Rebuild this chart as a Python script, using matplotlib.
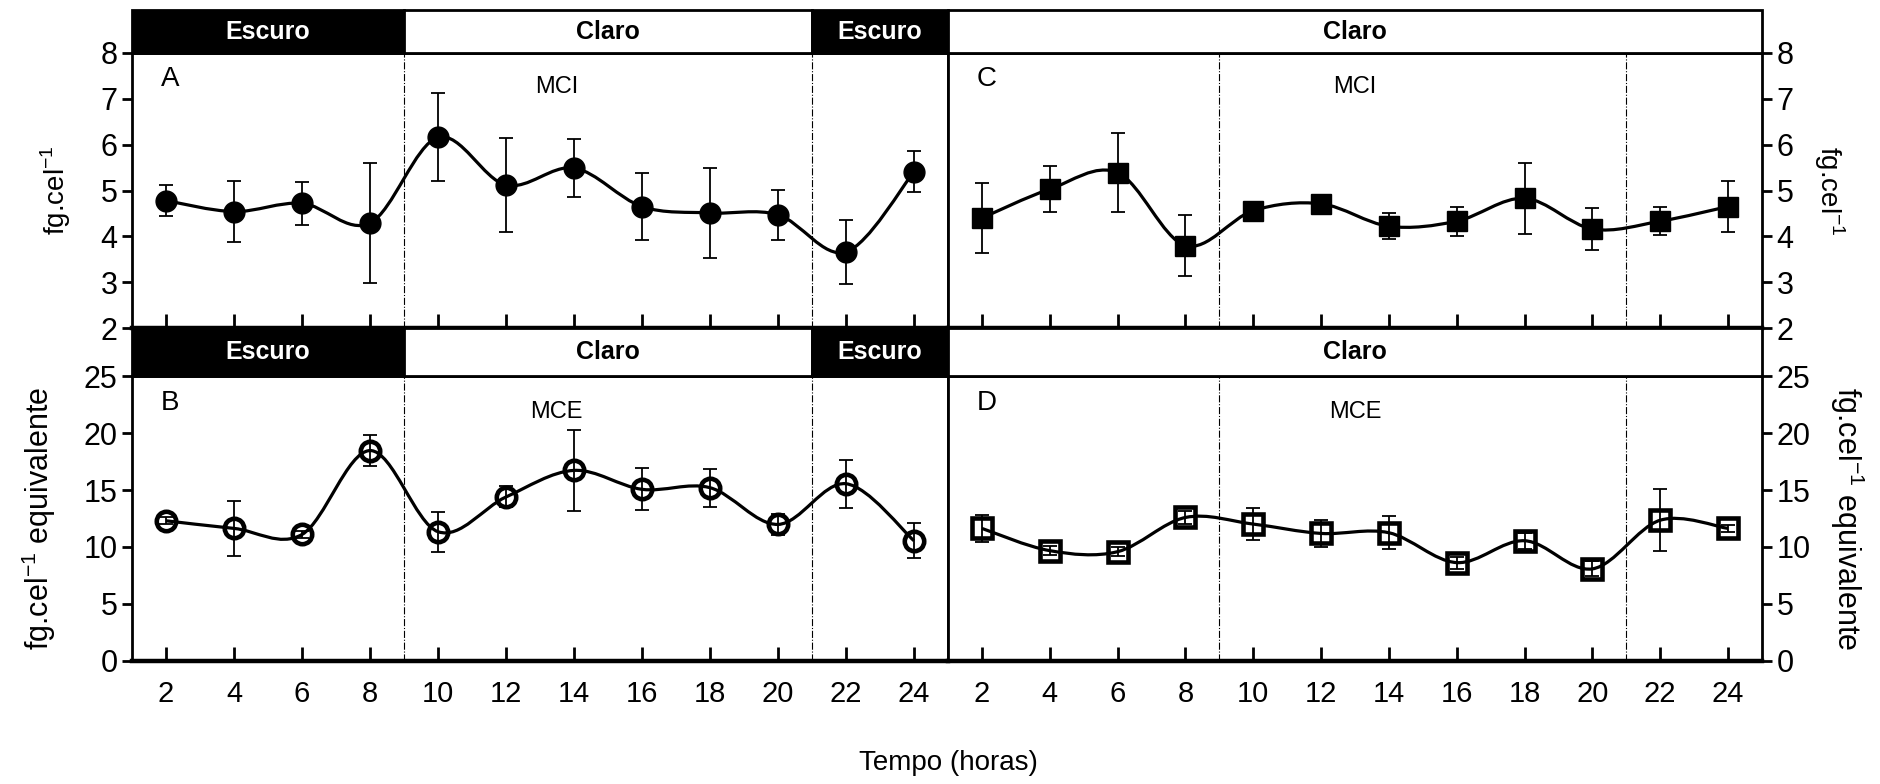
import numpy as np
import matplotlib.pyplot as plt
from matplotlib.path import Path
from matplotlib.patches import PathPatch, Rectangle

plt.rcParams['font.family'] = ['Liberation Sans', 'DejaVu Sans']
plt.rcParams['mathtext.fontset'] = 'custom'
plt.rcParams['mathtext.rm'] = 'Liberation Sans'

horas = [2, 4, 6, 8, 10, 12, 14, 16, 18, 20, 22, 24]

# A - MCI (escuro/claro)
a_media = [4.78, 4.54, 4.72, 4.29, 6.16, 5.12, 5.49, 4.65, 4.51, 4.47, 3.66, 5.41]
a_erro = [0.34, 0.66, 0.47, 1.30, 0.96, 1.02, 0.64, 0.74, 0.98, 0.54, 0.69, 0.45]
# C - MCI (claro continuo)
c_media = [4.40, 5.03, 5.39, 3.80, 4.56, 4.71, 4.22, 4.33, 4.83, 4.16, 4.33, 4.65]
c_erro = [0.76, 0.50, 0.86, 0.66, 0.04, 0.08, 0.28, 0.32, 0.78, 0.46, 0.30, 0.56]
# B - MCE (escuro/claro)
b_media = [12.30, 11.63, 11.10, 18.46, 11.34, 14.39, 16.72, 15.06, 15.20, 11.98, 15.55, 10.55]
b_erro = [0.30, 2.38, 0.30, 1.38, 1.76, 0.92, 3.53, 1.84, 1.66, 0.95, 2.11, 1.55]
# D - MCE (claro continuo)
d_media = [11.63, 9.68, 9.59, 12.59, 12.01, 11.19, 11.25, 8.63, 10.55, 8.08, 12.35, 11.63]
d_erro = [1.20, 0.42, 0.40, 0.60, 1.38, 1.20, 1.45, 0.52, 0.72, 0.65, 2.72, 0.30]

periodos_esq = [("Escuro", 1, 9), ("Claro", 9, 21), ("Escuro", 21, 25)]
periodos_dir = [("Claro", 1, 25)]
divisoes = [9, 21]


def curva_suave(ax, x, y):
    # linha suavizada tipo Excel (bezier a partir dos pontos)
    n = len(x)
    verts = [(x[0], y[0])]
    codes = [Path.MOVETO]
    for i in range(n - 1):
        xa, ya = x[max(i - 1, 0)], y[max(i - 1, 0)]
        xb, yb = x[min(i + 2, n - 1)], y[min(i + 2, n - 1)]
        c1 = (x[i] + (x[i + 1] - xa) / 6, y[i] + (y[i + 1] - ya) / 6)
        c2 = (x[i + 1] - (xb - x[i]) / 6, y[i + 1] - (yb - y[i]) / 6)
        verts += [c1, c2, (x[i + 1], y[i + 1])]
        codes += [Path.CURVE4] * 3
    ax.add_patch(PathPatch(Path(verts, codes), fill=False, lw=2.3,
                           edgecolor='black', zorder=2))


def faixa(fig, rect, periodos):
    axb = fig.add_axes(rect)
    axb.set_xlim(1, 25)
    axb.set_ylim(0, 1)
    axb.axis('off')
    for nome, x0, x1 in periodos:
        escuro = nome == "Escuro"
        axb.add_patch(Rectangle((x0, 0), x1 - x0, 1, facecolor='black' if escuro else 'white',
                                edgecolor='black', lw=2, clip_on=False))
        axb.text((x0 + x1) / 2, 0.5, nome, ha='center', va='center', fontsize=18,
                 fontweight='bold', color='white' if escuro else 'black')
    return axb


def painel(ax, media, erro, ylim, yticks, letra, nome, marcador, cheio, lado):
    ax.set_xlim(1, 25)
    ax.set_ylim(*ylim)
    ax.set_yticks(yticks)
    ax.set_xticks(horas)
    curva_suave(ax, horas, media)
    ax.errorbar(horas, media, yerr=erro, fmt='none', ecolor='black', elinewidth=1.3,
                capsize=5, capthick=1.3, zorder=3)
    if cheio:
        ax.plot(horas, media, linestyle='none', marker=marcador, markersize=15,
                color='black', zorder=4)
    else:
        ax.plot(horas, media, linestyle='none', marker=marcador, markersize=14,
                markerfacecolor='none', markeredgecolor='black', markeredgewidth=3.3, zorder=4)
    for xv in divisoes:
        ax.axvline(xv, color='black', lw=0.8, linestyle='-.', zorder=1)
    ax.text(0.035, 0.905, letra, transform=ax.transAxes, fontsize=20, va='center')
    ax.text(0.52 if lado == 'left' else 0.5, 0.875, nome, transform=ax.transAxes,
            fontsize=17, ha='center', va='center')
    for s in ax.spines.values():
        s.set_linewidth(2)
    ax.spines['bottom'].set_linewidth(3.2)
    ax.tick_params(axis='x', direction='in', length=10, width=2, labelsize=21, pad=14)
    ax.tick_params(axis='y', direction='out', length=7, width=2, labelsize=22)
    if lado == 'right':
        ax.yaxis.tick_right()
        ax.yaxis.set_label_position('right')
        ax.tick_params(axis='y', left=False)


fig = plt.figure(figsize=(18.81, 7.84), dpi=100)

xl, xm, xr = 0.0702, 0.504, 0.9367
topo = [0.5816, 0.9324, 0.9872]
base = [0.1569, 0.5204, 0.5816]

axA = fig.add_axes([xl, topo[0], xm - xl, topo[1] - topo[0]])
axC = fig.add_axes([xm, topo[0], xr - xm, topo[1] - topo[0]])
axB = fig.add_axes([xl, base[0], xm - xl, base[1] - base[0]])
axD = fig.add_axes([xm, base[0], xr - xm, base[1] - base[0]])

painel(axA, a_media, a_erro, (2, 8), range(2, 9), "A", "MCI", 'o', True, 'left')
painel(axC, c_media, c_erro, (2, 8), range(2, 9), "C", "MCI", 's', True, 'right')
painel(axB, b_media, b_erro, (0, 25), range(0, 26, 5), "B", "MCE", 'o', False, 'left')
painel(axD, d_media, d_erro, (0, 25), range(0, 26, 5), "D", "MCE", 's', False, 'right')

for ax in (axA, axC):
    ax.tick_params(axis='x', labelbottom=False)

faixa(fig, [xl, topo[1], xm - xl, topo[2] - topo[1]], periodos_esq)
faixa(fig, [xm, topo[1], xr - xm, topo[2] - topo[1]], periodos_dir)
faixa(fig, [xl, base[1], xm - xl, base[2] - base[1]], periodos_esq)
faixa(fig, [xm, base[1], xr - xm, base[2] - base[1]], periodos_dir)

axA.set_ylabel('fg.cel$^{-1}$', fontsize=20, labelpad=20)
axC.set_ylabel('fg.cel$^{-1}$', fontsize=20, rotation=270, labelpad=38)
axB.set_ylabel('fg.cel$^{-1}$ equivalente', fontsize=22, labelpad=18)
axD.set_ylabel('fg.cel$^{-1}$ equivalente', fontsize=22, rotation=270, labelpad=40)

fig.text(0.504, 0.027, 'Tempo (horas)', ha='center', va='center', fontsize=20)

fig.savefig('out.png', dpi=100)
